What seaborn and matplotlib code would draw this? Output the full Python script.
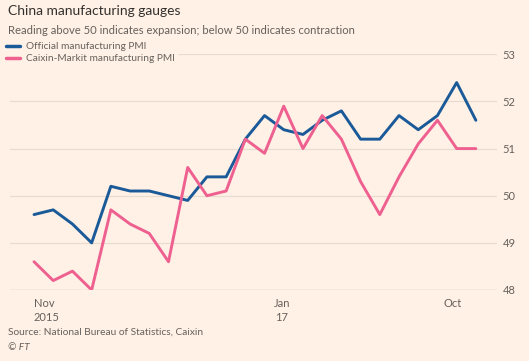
import matplotlib
matplotlib.use("Agg")
import matplotlib.pyplot as plt
import seaborn as sns
import pandas as pd
from matplotlib.lines import Line2D

months = ["2015-11", "2015-12", "2016-01", "2016-02", "2016-03", "2016-04",
          "2016-05", "2016-06", "2016-07", "2016-08", "2016-09", "2016-10",
          "2016-11", "2016-12", "2017-01", "2017-02", "2017-03", "2017-04",
          "2017-05", "2017-06", "2017-07", "2017-08", "2017-09", "2017-10"]
official = [49.6, 49.7, 49.4, 49.0, 50.2, 50.1, 50.1, 50.0, 49.9, 50.4, 50.4, 51.2,
            51.7, 51.4, 51.3, 51.6, 51.8, 51.2, 51.2, 51.7, 51.4, 51.7, 52.4, 51.6]
caixin = [48.6, 48.2, 48.4, 48.0, 49.7, 49.4, 49.2, 48.6, 50.6, 50.0, 50.1, 51.2,
          50.9, 51.9, 51.0, 51.7, 51.2, 50.3, 49.6, 50.4, 51.1, 51.6, 51.0, 51.0]
series_names = ["Official manufacturing PMI", "Caixin-Markit manufacturing PMI"]
y_ticks = [48, 49, 50, 51, 52, 53]
x_label_pos = [0, 12.9, 21.8]
x_labels = ["Nov\n2015", "Jan\n17", "Oct"]

BG = "#fff1e5"
BLUE = "#1a5a99"
PINK = "#ee6090"
GRID = "#e8dbd0"
TXT = "#66605c"

df = pd.DataFrame({
    "idx": list(range(len(months))) * 2,
    "value": official + caixin,
    "series": [series_names[0]] * len(months) + [series_names[1]] * len(months),
})

sns.set_theme(style="white")
plt.rcParams["font.family"] = ["Lato", "DejaVu Sans"]

fig = plt.figure(figsize=(5.29, 3.61), dpi=100, facecolor=BG)
W, H = 529, 361
ax = fig.add_axes([10 / W, 1 - 290 / H, (497 - 10) / W, (290 - 54.3) / H])
ax.set_facecolor(BG)

sns.lineplot(data=df, x="idx", y="value", hue="series",
             palette=[BLUE, PINK], linewidth=2.1, ax=ax, legend=False)

ax.set_xlim(-1.25, 24.1)
ax.set_ylim(48, 53)
for s in ax.spines.values():
    s.set_visible(False)
ax.set_xlabel("")
ax.set_ylabel("")

ax.yaxis.tick_right()
ax.set_yticks(y_ticks)
ax.set_yticklabels([str(v) for v in y_ticks])
ax.tick_params(axis="y", length=0, pad=4, labelsize=8, labelcolor=TXT)
ax.grid(axis="y", color=GRID, linewidth=0.9)
ax.axhline(48, color="#ddd0c4", linewidth=1.0, zorder=1)

ax.set_xticks(x_label_pos)
ax.set_xticklabels(x_labels)
ax.set_xticks(range(0, 25), minor=True)
ax.tick_params(axis="x", which="major", length=0, pad=6,
               labelsize=8, labelcolor=TXT)
ax.tick_params(axis="x", which="minor", length=3, width=0.8, color="#ddd0c4")
xl = ax.get_xticklabels()
for lbl in xl:
    lbl.set_linespacing(1.25)
xl[0].set_horizontalalignment("left")

handles = [Line2D([], [], color=BLUE, linewidth=2.5), Line2D([], [], color=PINK, linewidth=2.5)]
leg = fig.legend(handles, series_names, loc="upper left", bbox_to_anchor=(4 / W, 1 - 40 / H),
                 frameon=True, facecolor=BG, edgecolor=BG, framealpha=1,
                 fontsize=7.3, handlelength=1.4, handletextpad=0.6, labelspacing=0.3,
                 borderpad=0.2, borderaxespad=0)
for t in leg.get_texts():
    t.set_color(TXT)

fig.text(8 / W, 1 - 15 / H, "China manufacturing gauges", fontsize=10, color="#33302e")
fig.text(8 / W, 1 - 34 / H, "Reading above 50 indicates expansion; below 50 indicates contraction",
         fontsize=8.1, color=TXT)
fig.text(8 / W, 1 - 335 / H, "Source: National Bureau of Statistics, Caixin", fontsize=7.3, color=TXT)
fig.text(8 / W, 1 - 350 / H, "© FT", fontsize=7.3, color=TXT, style="italic")

fig.savefig("out.png", dpi=100, facecolor=BG)
